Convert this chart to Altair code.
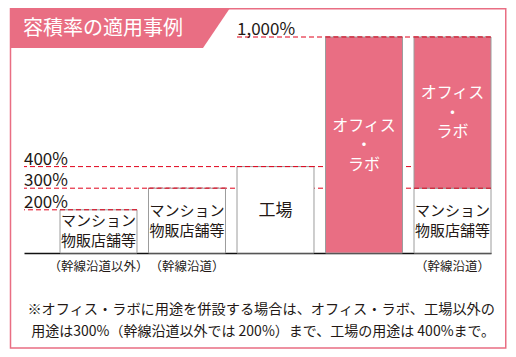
import altair as alt
import pandas as pd

# ---- data ----
zones = ["住宅等（幹線沿道以外）", "住宅等（幹線沿道）", "工場", "オフィス・ラボ", "オフィス・ラボ併設（幹線沿道）"]
zone_labels = ["（幹線沿道以外）", "（幹線沿道）", "", "", "（幹線沿道）"]

seg_zone = [zones[0], zones[1], zones[2], zones[3], zones[4], zones[4]]
seg_use = ["住宅等", "住宅等", "工場", "オフィス", "住宅等", "オフィス"]
seg_low = [0, 0, 0, 0, 0, 300]
seg_high = [200, 300, 400, 1000, 300, 1000]
seg_text = ["マンション\n物販店舗等", "マンション\n物販店舗等", "工場",
            "オフィス\n・\nラボ", "マンション\n物販店舗等", "オフィス\n・\nラボ"]

rule_level = [1000, 400, 300, 200]
rule_label = ["1,000%", "400%", "300%", "200%"]
rule_from = [zones[2], "", "", ""]          # "" = starts at the left edge
rule_to = [zones[4], zones[4], zones[4], zones[0]]

title_text = "容積率の適用事例"
note_lines = ["※オフィス・ラボに用途を併設する場合は、オフィス・ラボ、工場以外の",
              "用途は300%（幹線沿道以外では 200%）まで、工場の用途は 400%まで。"]

# ---- styles ----
F = "Noto Sans CJK JP"
PINK = "#E96E83"
GRAY = "#9C9C9C"
RED = "#E0001A"
INK = "#231815"

segs = pd.DataFrame({"zone": seg_zone, "use": seg_use, "low": seg_low,
                     "high": seg_high, "text": seg_text})
rules = pd.DataFrame({"level": rule_level, "label": rule_label,
                      "from": rule_from, "to": rule_to})
one = alt.Data(values=[{"k": 0}])

label_expr = " : ".join(f"datum.value === '{z}' ? '{l}'" for z, l in zip(zones, zone_labels)) + " : ''"
XS = alt.Scale(domain=zones, paddingInner=0.13, paddingOuter=0.2034, align=1)
XAX = alt.Axis(title=None, ticks=False, grid=False, domainColor="#111111", domainWidth=1.5,
               labelExpr=label_expr, labelFont=F, labelFontSize=12.5, labelColor=INK,
               labelPadding=7, labelAngle=0)
YS = alt.Scale(domain=[0, 1000], nice=False, zero=True)

# frame and title box
frame = alt.Chart(one).mark_rect(fill="transparent", stroke=PINK, strokeWidth=1.5).encode(
    x=alt.value(-13.5), x2=alt.value(481.75), y=alt.value(-28.25), y2=alt.value(311))
title_box = alt.Chart(one).mark_point(
    shape="M0,0L220,0L193,40L0,40Z", size=4, filled=True, fill=PINK, strokeWidth=0, opacity=1
).encode(x=alt.value(-14), y=alt.value(-29))
title = alt.Chart(one).mark_text(
    text=title_text, font=F, fontSize=20, color="white", align="left", baseline="middle"
).encode(x=alt.value(-1), y=alt.value(-8))

# dashed reference lines (under the bars)
rules_left = alt.Chart(rules).transform_filter("datum.from === ''").mark_rule(
    color=RED, strokeWidth=1, strokeDash=[5, 3]).encode(
    x=alt.X("to:N", scale=XS, axis=XAX, bandPosition=1),
    x2=alt.value(0),
    y=alt.Y("level:Q", scale=YS, axis=None))
rules_mid = alt.Chart(rules).transform_filter("datum.from !== ''").mark_rule(
    color=RED, strokeWidth=1, strokeDash=[5, 3]).encode(
    x=alt.X("from:N", scale=XS, axis=XAX, bandPosition=0),
    x2=alt.X2("to:N", bandPosition=1),
    y=alt.Y("level:Q", scale=YS, axis=None))

bars = alt.Chart(segs).mark_bar(stroke=GRAY, strokeWidth=1).encode(
    x=alt.X("zone:N", scale=XS, axis=XAX),
    y=alt.Y("low:Q", scale=YS, axis=None),
    y2="high:Q",
    fill=alt.Fill("use:N", scale=alt.Scale(domain=["住宅等", "工場", "オフィス"],
                                           range=["white", "white", PINK]), legend=None))

# dashed line redrawn along each bar top
edges = alt.Chart(segs).mark_rule(color=RED, strokeWidth=1, strokeDash=[5, 3]).encode(
    x=alt.X("zone:N", scale=XS, axis=XAX, bandPosition=0),
    x2=alt.X2("zone:N", bandPosition=1),
    y=alt.Y("high:Q", scale=YS, axis=None))

def seg_text_layer(use, size, color, lh, dy):
    return alt.Chart(segs).transform_filter(f"datum.use === '{use}'").transform_calculate(
        mid="(datum.low + datum.high) / 2").mark_text(
        font=F, fontSize=size, color=color, lineBreak="\n", lineHeight=lh,
        baseline="middle", align="center", dy=dy).encode(
        x=alt.X("zone:N", scale=XS, axis=XAX),
        y=alt.Y("mid:Q", scale=YS, axis=None),
        text="text:N")

txt_res = seg_text_layer("住宅等", 15, INK, 20, -10)
txt_fac = seg_text_layer("工場", 17, INK, 20, 1)
txt_off = seg_text_layer("オフィス", 16, "white", 19.5, -19.5)

lab_left = alt.Chart(rules).transform_filter("datum.from === ''").mark_text(
    font=F, fontSize=17, color=INK, align="left", baseline="alphabetic", dy=-2).encode(
    x=alt.value(0), y=alt.Y("level:Q", scale=YS, axis=None), text="label:N")
lab_mid = alt.Chart(rules).transform_filter("datum.from !== ''").mark_text(
    font=F, fontSize=17, color=INK, align="left", baseline="alphabetic", dy=-2).encode(
    x=alt.X("from:N", scale=XS, axis=XAX, bandPosition=0),
    y=alt.Y("level:Q", scale=YS, axis=None), text="label:N")

note1 = alt.Chart(one).mark_text(text=note_lines[0], font=F, fontSize=14.2, color=INK,
                                 align="right", baseline="middle").encode(
    x=alt.value(471), y=alt.value(273))
note2 = alt.Chart(one).mark_text(text=note_lines[1], font=F, fontSize=14, color=INK,
                                 align="right", baseline="middle").encode(
    x=alt.value(471), y=alt.value(294.5))

chart = alt.layer(
    frame, title_box, title, rules_left, rules_mid, bars, edges,
    txt_res, txt_fac, txt_off, lab_left, lab_mid, note1, note2
).properties(
    width=467, height=216,
    autosize=alt.AutoSizeParams(type="none"),
    padding={"left": 16, "top": 29, "right": 17, "bottom": 96},
    background="white"
).configure_view(stroke=None)

chart.save("out.html", embed_options={"renderer": "svg", "actions": False})
